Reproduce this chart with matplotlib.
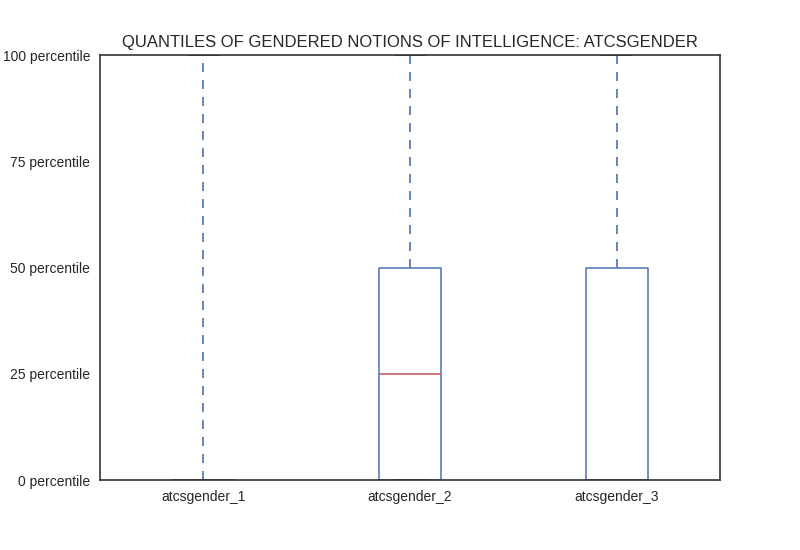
import matplotlib
matplotlib.use("Agg")
import matplotlib.pyplot as plt
import seaborn as sns

sns.set_style("white")
plt.rcParams["font.family"] = ["Liberation Sans", "DejaVu Sans"]

# Quantile values per column (percent)
labels = ["atcsgender_1", "atcsgender_2", "atcsgender_3"]
q_low = [0, 0, 0]
q1 = [0, 0, 0]
med = [0, 25, 0]
q3 = [0, 50, 50]
q_high = [100, 100, 100]

yticks = [0, 25, 50, 75, 100]
yticklabels = ["%d percentile" % t for t in yticks]

stats = []
for i in range(len(labels)):
    stats.append({"label": labels[i], "whislo": q_low[i], "q1": q1[i],
                  "med": med[i], "q3": q3[i], "whishi": q_high[i], "fliers": []})

fig = plt.figure(figsize=(8, 5.5), dpi=100)
ax = fig.add_axes([0.125, 0.127, 0.775, 0.773])

blue = "#4c72b0"
ax.bxp(stats, widths=0.3, showfliers=False,
       boxprops=dict(color=blue, linewidth=1.1),
       whiskerprops=dict(color=blue, linestyle=(0, (5.4, 4.8)), linewidth=1.2),
       capprops=dict(color="#333333", linewidth=1.2),
       medianprops=dict(color="#c44e52", linewidth=1.1))

ax.set_xlim(0.5, 3.5)
ax.set_ylim(0, 100)
ax.set_yticks(yticks)
ax.set_yticklabels(yticklabels, fontsize=10)
ax.tick_params(axis="x", labelsize=10)
ax.set_title("QUANTILES OF GENDERED NOTIONS OF INTELLIGENCE: ATCSGENDER", fontsize=12)
for s in ax.spines.values():
    s.set_color("#333333")
    s.set_linewidth(1.2)

fig.savefig("out.png", dpi=100)
